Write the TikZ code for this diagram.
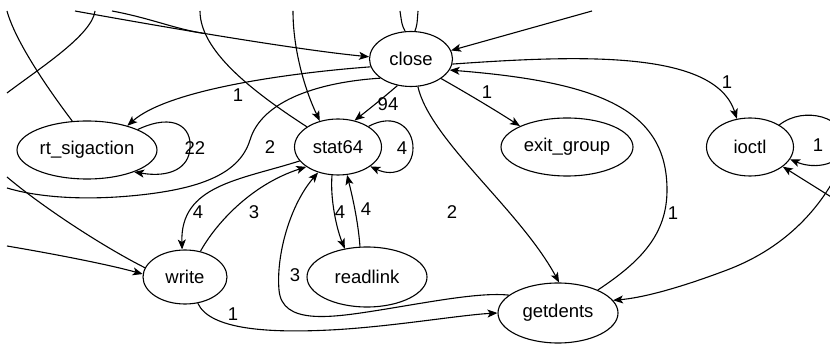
\documentclass[tikz,border=0pt]{standalone}
\usepackage{fontspec}
\setmainfont{Liberation Sans}
\usetikzlibrary{arrows.meta,shapes.geometric}
\begin{document}
\begin{tikzpicture}[x=1pt,y=-1pt,
  nd/.style={draw,ellipse,inner sep=0pt,line width=1.1pt,minimum height=56pt,font=\fontsize{18.5}{20}\selectfont},
  e/.style={line width=1.1pt},
  ea/.style={e,-{Stealth[length=10pt,width=8pt,inset=2.5pt]}},
  lbl/.style={inner sep=0pt,font=\fontsize{18.5}{20}\selectfont}]
\useasboundingbox (0,0) rectangle (830,344);
\clip (0,0) rectangle (830,344);
% nodes
\node[nd,minimum width=83pt,minimum height=55pt] (close) at (411,59) {close};
\node[nd,minimum width=87pt] (stat) at (338,147) {stat64};
\node[nd,minimum width=132pt,minimum height=58pt] (exit) at (567,147) {exit\_group};
\node[nd,minimum width=87pt,minimum height=58pt] (ioctl) at (750,147) {ioctl};
\node[nd,minimum width=140pt,minimum height=58pt] (rt) at (87,150) {rt\_sigaction};
\node[nd,minimum width=84pt,minimum height=54pt] (write) at (185,277) {write};
\node[nd,minimum width=120pt,minimum height=60pt] (readlink) at (367,277) {readlink};
\node[nd,minimum width=120pt,minimum height=60pt] (getdents) at (558,313) {getdents};
% free ends
\coordinate (tA) at (75,11);
\coordinate (tB) at (95,11);
\coordinate (tC) at (7,11);
\coordinate (tD) at (112,11);
\coordinate (mD) at (204,33.4);
\coordinate (tE) at (200,11);
\coordinate (tF) at (293,11);
\coordinate (tG) at (400,11);
\coordinate (tH) at (418,11);
\coordinate (tI) at (592,11);
\coordinate (lB) at (7,93);
\coordinate (lJ) at (7,188);
\coordinate (lM) at (7,177);
\coordinate (lN) at (7,246);
\coordinate (rK) at (836,200);
\coordinate (rL) at (836,176);
% edges
\draw[ea] (close.191) .. controls (300,72) and (170,88) .. (rt.31);
\draw[ea] (tA) .. controls (180,30) and (300,50) .. (close.177);
\draw[e] (tB) .. controls (92,35) and (40,68) .. (lB);
\draw[e] (rt.117) .. controls (45,85) and (15,40) .. (tC);
\draw[e] (tD) .. controls (150,18) and (175,29) .. (mD);
\draw[e] (stat.147) .. controls (250,90) and (200,50) .. (tE);
\draw[ea] (tF) .. controls (293,50) and (305,90) .. (stat.125);
\draw[e] (close.102) .. controls (402,25) .. (tG);
\draw[e] (close.82) .. controls (417,25) .. (tH);
\draw[ea] (tI) -- (close.12);
\draw[ea] (close.-7) .. controls (580,55) and (715,50) .. (ioctl.115);
\draw[ea] (getdents.30) .. controls (640,262) and (667,235) .. (667,190) .. controls (667,110) and (600,82) .. (close.-16);
\draw[ea] (close.243) .. controls (383,98) and (368,110) .. (stat.58);
\draw[ea] (close.-33) .. controls (470,95) and (495,110) .. (exit.156);
\draw[ea] (close.-76) .. controls (430,140) and (520,210) .. (getdents.88);
\draw[e] (close.212) .. controls (320,82) and (262,100) .. (250,140) .. controls (240,172) and (205,188) .. (140,195) .. controls (75,202) and (30,195) .. (lJ);
\draw[ea] (rt.22) .. controls (175,112) and (192,128) .. (190,148) .. controls (189,168) and (170,178) .. (rt.-25);
\draw[ea] (stat.34) .. controls (395,112) and (413,128) .. (413,148) .. controls (413,168) and (395,178) .. (stat.-31);
\draw[ea] (ioctl.37) .. controls (805,105) and (845,118) .. (845,142) .. controls (845,165) and (815,170) .. (ioctl.-17);
\draw[ea] (rK) -- (ioctl.-31);
\draw[ea] (rL) .. controls (815,215) and (780,250) .. (727,270) .. controls (674,290) and (640,298) .. (getdents.13);
\draw[ea] (stat.200) .. controls (240,180) and (180,185) .. (write.96);
\draw[ea] (write.59) .. controls (215,225) and (250,185) .. (stat.212);
\draw[ea] (write.-64) .. controls (210,330) and (270,333) .. (330,330) .. controls (390,327) and (460,315) .. (getdents.180);
\draw[ea] (getdents.160) .. controls (480,292) and (430,302) .. (380,310) .. controls (330,318) and (282,325) .. (279,290) .. controls (276,255) and (290,205) .. (stat.232);
\draw[ea] (stat.258) .. controls (330,200) and (337,230) .. (readlink.128);
\draw[ea] (readlink.103) .. controls (358,220) and (352,195) .. (stat.-72);
\draw[e] (write.167) .. controls (100,245) and (40,205) .. (lM);
\draw[ea] (lN) .. controls (60,255) and (110,265) .. (write.176);
% labels
\node[lbl] (l1) at (238,95) {1};
\node[lbl] (l2) at (388,104) {94};
\node[lbl] (l3) at (487,92) {1};
\node[lbl] (l4) at (727,82) {1};
\node[lbl] (l5) at (195,148) {22};
\node[lbl] (l6) at (270,147) {2};
\node[lbl] (l7) at (402,148) {4};
\node[lbl] (l8) at (818,145) {1};
\node[lbl] (l9) at (198,212) {4};
\node[lbl] (l10) at (254,212) {3};
\node[lbl] (l11) at (340,212) {4};
\node[lbl] (l12) at (366,209) {4};
\node[lbl] (l13) at (452,212) {2};
\node[lbl] (l14) at (673,213) {1};
\node[lbl] (l15) at (295,275) {3};
\node[lbl] (l16) at (233,314) {1};
\end{tikzpicture}
\end{document}
